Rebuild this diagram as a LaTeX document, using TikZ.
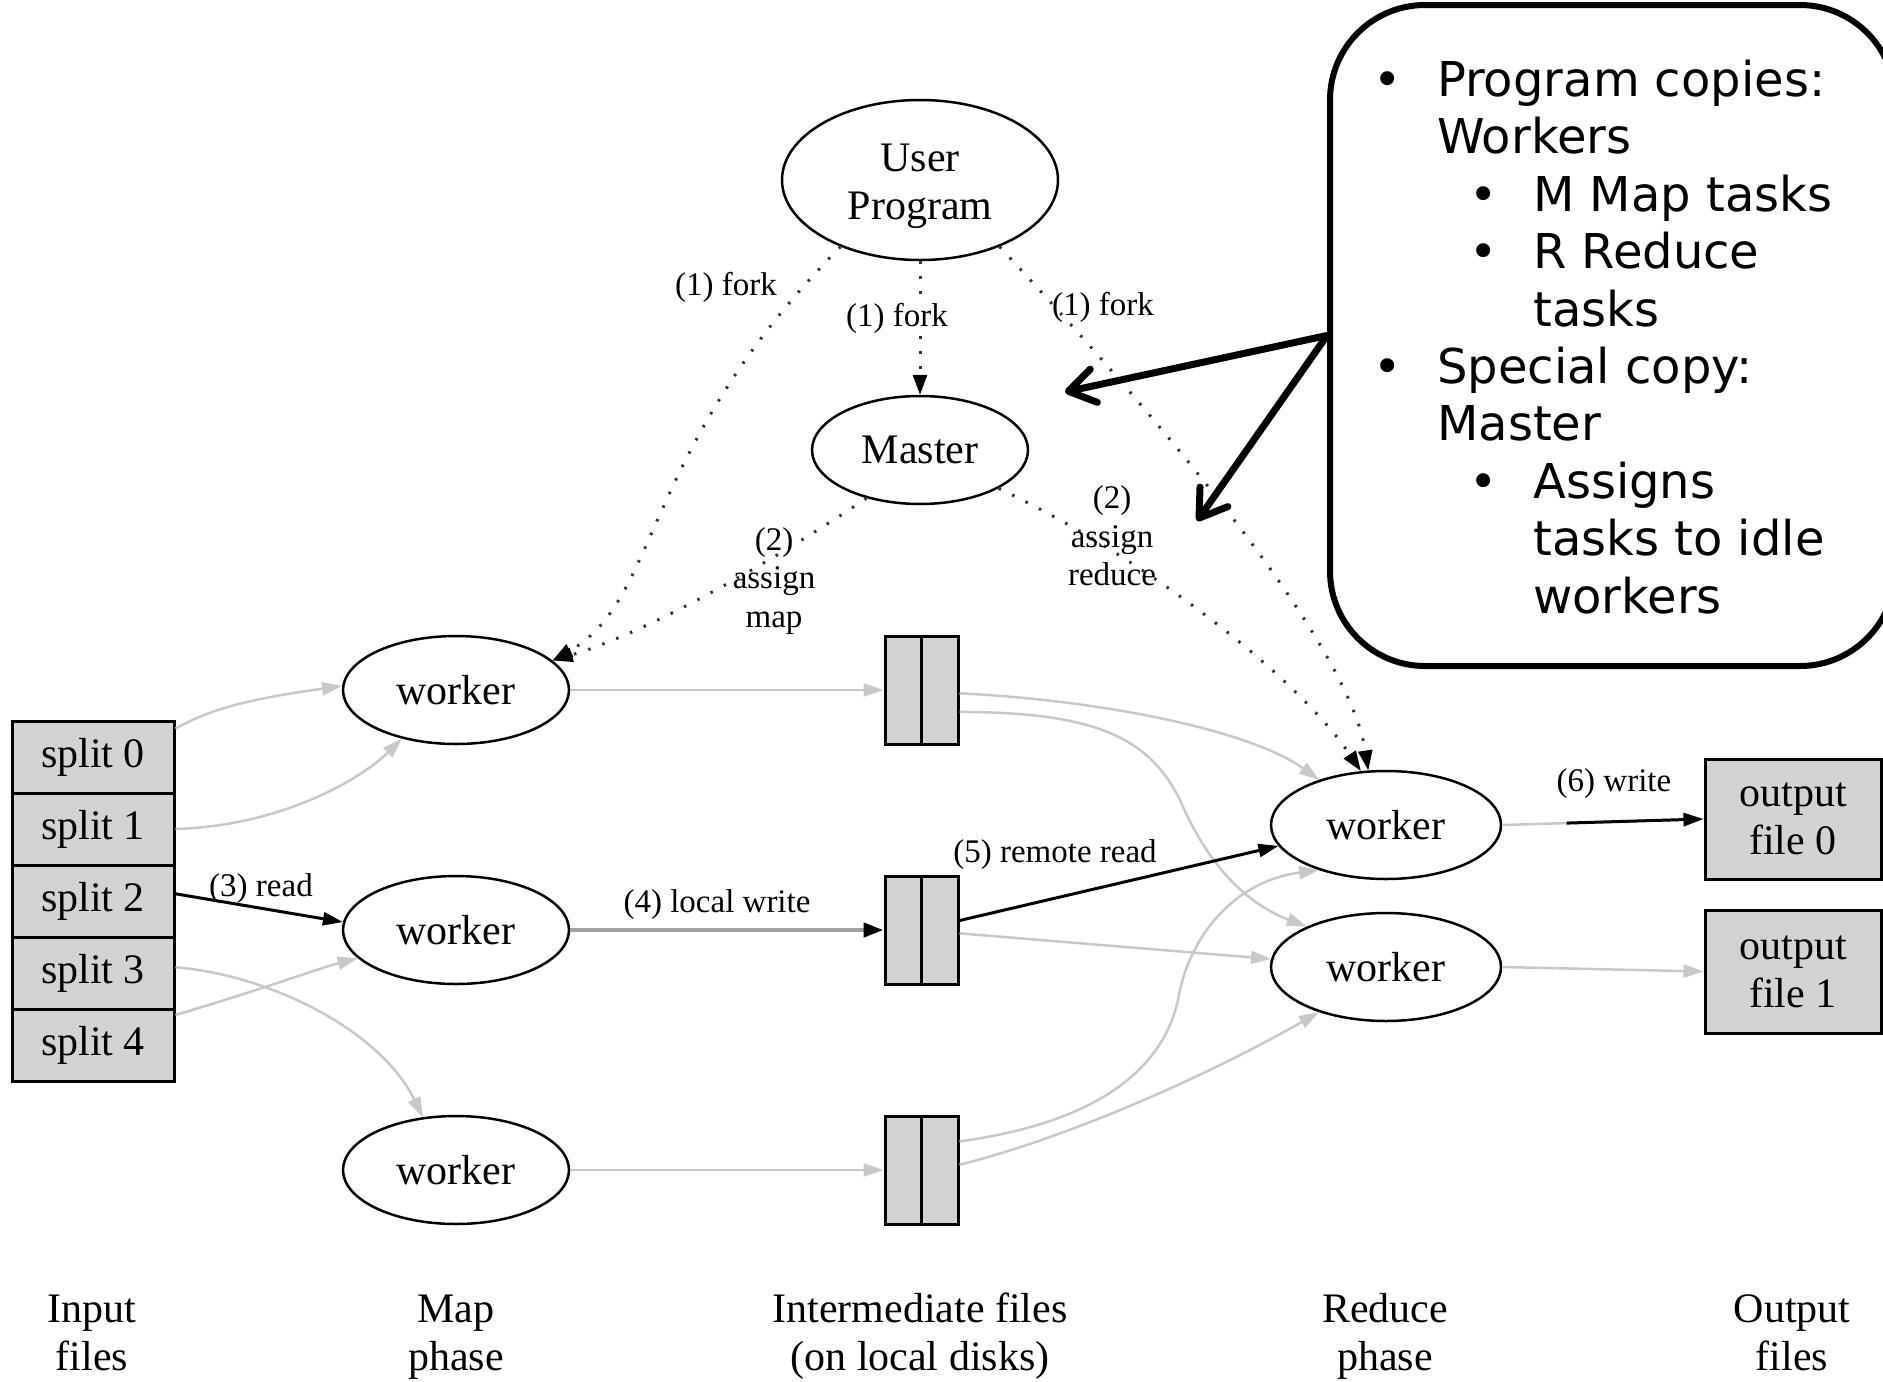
\documentclass[tikz,border=0pt]{standalone}
\usepackage{fontspec}
\setmainfont{Liberation Serif}
\newfontfamily\calloutfont{DejaVu Sans}
\usetikzlibrary{arrows.meta,shapes.geometric,calc}
\definecolor{conn}{RGB}{200,200,200}
\definecolor{boxfill}{RGB}{211,211,211}
\definecolor{lwgray}{RGB}{160,160,160}
\newcommand\dgmfont{\fontsize{42}{48}\selectfont}
\newcommand\dgmlblfont{\fontsize{33}{38.5}\selectfont}
\tikzset{
  ell/.style={ellipse, draw, line width=2.5pt, inner sep=0pt, font=\dgmfont, align=center},
  filebox/.style={rectangle, draw, line width=3pt, fill=boxfill, inner sep=0pt, font=\dgmfont, align=center},
  interbox/.style={rectangle, draw, line width=3pt, fill=boxfill, inner sep=0pt, minimum width=73pt, minimum height=108pt},
  lbl/.style={font=\dgmlblfont, align=center, inner sep=0pt},
  caption/.style={font=\dgmfont, align=center, inner sep=0pt, anchor=base},
  gconn/.style={draw=conn, line width=2.5pt, -{Triangle[length=20pt,width=13pt]}},
  bconn/.style={draw=black, line width=3pt, -{Triangle[length=20pt,width=13pt,black]}},
  lwconn/.style={draw=lwgray, line width=4.5pt, -{Triangle[length=20pt,width=14pt,black]}},
  dotconn/.style={draw=black!80, line width=3pt, dash pattern=on 2.5pt off 12.5pt, -{Triangle[length=20pt,width=14pt,black]}},
  callarrow/.style={draw=black, line width=7pt, line cap=round, -{Straight Barb[length=26pt,width=34pt,round]}}
}
\begin{document}
\begin{tikzpicture}[x=1pt,y=-1pt]
\useasboundingbox (0,0) rectangle (1883,1382);
\clip (0,0) rectangle (1883,1382);

% master and user program
\node[ell, minimum width=276pt, minimum height=160pt] (up) at (920,180) {\rule{0pt}{40pt}User\\Program};
\node[ell, minimum width=216pt, minimum height=108pt] (master) at (920,450) {Master};

% input splits
\foreach \i in {0,...,4}{
  \node[filebox, minimum width=162pt, minimum height=72pt] (s\i) at (93,{757+72*\i}) {split \i};
}

% map workers
\node[ell, minimum width=226pt, minimum height=108pt] (mw1) at (456,690) {worker};
\node[ell, minimum width=226pt, minimum height=108pt] (mw2) at (456,930) {worker};
\node[ell, minimum width=226pt, minimum height=108pt] (mw3) at (456,1170) {worker};

% intermediate files
\foreach \k/\y in {1/690,2/930,3/1170}{
  \node[interbox] (ib\k) at (921.5,\y) {};
  \draw[line width=3pt] (ib\k.north) -- (ib\k.south);
}

% reduce workers
\node[ell, minimum width=230pt, minimum height=108pt] (rw1) at (1386,825) {worker};
\node[ell, minimum width=230pt, minimum height=108pt] (rw2) at (1386,967) {worker};

% output files
\node[filebox, minimum width=176pt, minimum height=120pt] (o0) at (1793,819) {output\\file 0};
\node[filebox, minimum width=176pt, minimum height=123pt] (o1) at (1793,971.5) {output\\file 1};

% fork and assign (dotted)
\draw[dotconn] (up.220) .. controls (640,450) and (660,600) .. (mw1.17);
\draw[dotconn] (up.south) -- (master.north);
\draw[dotconn] (up.320) .. controls (1180,440) and (1350,650) .. (rw1.108);
\draw[dotconn] (master.222) .. controls (760,570) and (640,635) .. (mw1.17);
\draw[dotconn] (master.334) .. controls (1150,560) and (1300,680) .. (rw1.115);

% splits to map workers
\draw[gconn] (s0.19) .. controls (205,712) and (240,700) .. (mw1.178);
\draw[gconn] (s1.east) .. controls (280,826) and (360,780) .. (mw1.222);
\draw[bconn] (s2.5) -- (mw2.176);
\draw[gconn] (s3.4) .. controls (270,975) and (380,1030) .. (mw3.122);
\draw[gconn] (s4.20) .. controls (260,990) and (320,968) .. (mw2.196);

% map workers to intermediate files
\draw[gconn] (mw1.east) -- (ib1.west);
\draw[lwconn] (mw2.east) -- (ib2.west);
\draw[gconn] (mw3.east) -- (ib3.west);

% intermediate files to reduce workers
\draw[gconn] (ib1.-5) .. controls (1100,700) and (1250,730) .. (rw1.146);
\draw[gconn] (ib1.-30) .. controls (1100,712) and (1150,740) .. (1180,800)
                       .. controls (1210,870) and (1250,905) .. (rw2.153);
\draw[bconn] (ib2.14) -- (rw1.191);
\draw[gconn] (ib2.-5) -- (rw2.176);
\draw[gconn] (ib3.37) .. controls (1080,1125) and (1160,1080) .. (1178,1000)
                      .. controls (1190,930) and (1240,880) .. (rw1.214);
\draw[gconn] (ib3.8) .. controls (1060,1140) and (1200,1080) .. (rw2.214);

% reduce workers to output files
\draw[gconn] (rw1.east) -- (o0.west);
\draw[bconn] ($(rw1.east)!0.32!(o0.west)$) -- (o0.west);
\draw[gconn] (rw2.east) -- (o1.west);

% edge labels
\node[lbl] (lf1) at (726,287) {(1) fork};
\node[lbl, fill=white, inner sep=2pt] (lf2) at (897,318) {(1) fork};
\node[lbl] (lf3) at (1103,307) {(1) fork};
\node[lbl] (lam) at (774,581) {(2)\\assign\\map};
\node[lbl] (lar) at (1112,536) {(2)\\assign\\reduce};
\node[lbl] (lrd) at (261,889) {(3) read};
\node[lbl] (llw) at (717,905) {(4) local write};
\node[lbl] (lrr) at (1055,855) {(5) remote read};
\node[lbl] (lwr) at (1614,784) {(6) write};

% phase captions (anchored at the baseline of the second line)
\node[caption] (cin) at (92,1370) {Input\\files};
\node[caption] (cmap) at (456,1370) {Map\\phase};
\node[caption] (cint) at (920,1370) {Intermediate files\\(on local disks)};
\node[caption] (cred) at (1385,1370) {Reduce\\phase};
\node[caption] (cout) at (1792,1370) {Output\\files};

% callout
\node[draw, line width=6pt, rounded corners=95pt, minimum width=565pt, minimum height=661pt, inner sep=0pt] (callout) at (1612.5,335.5) {};
\node[anchor=base west, inner sep=0pt, align=left, font=\calloutfont\fontsize{48}{57.4}\selectfont] (ctext) at (1373,613)
{\makebox[64pt][l]{•}Program copies:\\
 \hspace*{64pt}Workers\\
 \hspace*{96pt}\makebox[64pt][l]{•}M Map tasks\\
 \hspace*{96pt}\makebox[64pt][l]{•}R Reduce\\
 \hspace*{160pt}tasks\\
 \makebox[64pt][l]{•}Special copy:\\
 \hspace*{64pt}Master\\
 \hspace*{96pt}\makebox[64pt][l]{•}Assigns\\
 \hspace*{160pt}tasks to idle\\
 \hspace*{160pt}workers};
\coordinate (tipA) at (1065,392);
\coordinate (tipB) at (1197,521);
\draw[callarrow] (callout.west) -- (tipA);
\draw[callarrow] (callout.west) -- (tipB);
\end{tikzpicture}
\end{document}
